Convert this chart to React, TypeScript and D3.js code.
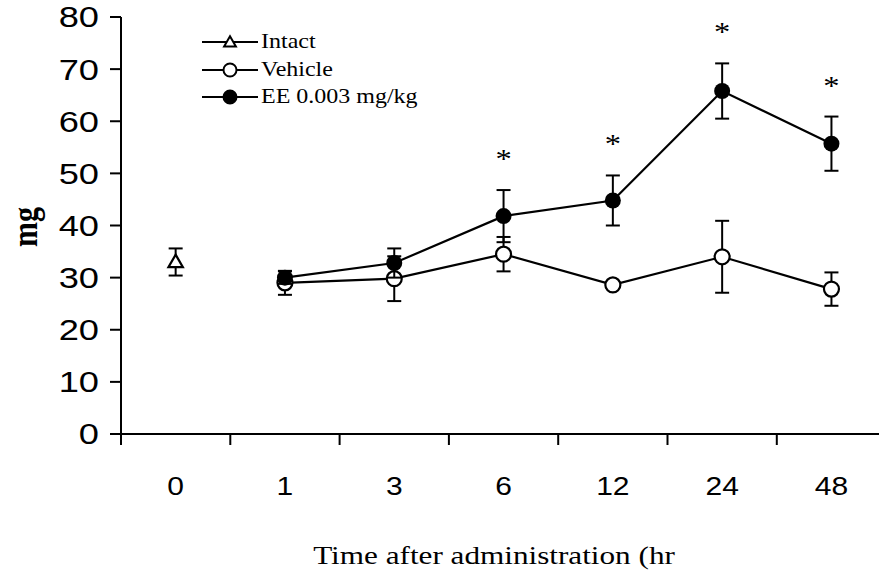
import { useRef, useEffect } from 'react';
import * as d3 from 'd3';

const categories = ['0', '1', '3', '6', '12', '24', '48'];
const yTicks = [0, 10, 20, 30, 40, 50, 60, 70, 80];

const intactTimes = ['0'];
const intactMean = [33];
const intactErr = [2.6];

const treatTimes = ['1', '3', '6', '12', '24', '48'];
const vehicleMean = [29, 29.8, 34.5, 28.6, 34, 27.8];
const vehicleErr = [2.3, 4.3, 3.3, 0.6, 6.9, 3.2];
const eeMean = [30, 32.8, 41.8, 44.8, 65.8, 55.7];
const eeErr = [1.2, 2.8, 5, 4.8, 5.3, 5.2];
const eeSig = [false, false, true, true, true, true];

const legendLabels = ['Intact', 'Vehicle', 'EE 0.003 mg/kg'];

const SX = 1.2; // the scan is a bit wider than tall

const App = () => {
  const svgRef = useRef<SVGSVGElement>(null);

  useEffect(() => {
    const svg = d3.select(svgRef.current);
    svg.selectAll('*').remove();

    const left = 121;
    const bottom = 434;
    const top = 17;
    const band = 109.3;

    const x = d3.scaleBand<string>()
      .domain(categories)
      .range([left, left + band * categories.length])
      .paddingInner(0)
      .paddingOuter(0);
    const cx = (c: string) => (x(c) as number) + x.bandwidth() / 2;

    const y = d3.scaleLinear().domain([0, 80]).range([bottom, top]);

    const serif = 'Liberation Serif, Times New Roman, serif';
    const sans = 'Liberation Sans, Arial, sans-serif';

    // axes
    const ax = svg.append('g').attr('stroke', '#000').attr('stroke-width', 2);
    ax.append('line').attr('x1', left).attr('x2', left).attr('y1', top).attr('y2', bottom + 11);
    ax.append('line').attr('x1', left - 11).attr('x2', 879).attr('y1', bottom).attr('y2', bottom);

    ax.selectAll('.yt')
      .data(yTicks)
      .join('line')
      .attr('x1', left - 11)
      .attr('x2', left)
      .attr('y1', d => y(d))
      .attr('y2', d => y(d));

    ax.selectAll('.xt')
      .data(categories.slice(1))
      .join('line')
      .attr('x1', d => x(d) as number)
      .attr('x2', d => x(d) as number)
      .attr('y1', bottom)
      .attr('y2', bottom + 11);

    svg.append('g')
      .selectAll('text')
      .data(yTicks)
      .join('text')
      .attr('transform', d => `translate(99,${y(d)}) scale(1.25,1)`)
      .attr('dy', '0.36em')
      .attr('text-anchor', 'end')
      .attr('font-family', sans)
      .attr('font-size', 29)
      .text(d => d);

    svg.append('g')
      .selectAll('text')
      .data(categories)
      .join('text')
      .attr('transform', d => `translate(${cx(d)},495) scale(${SX},1)`)
      .attr('text-anchor', 'middle')
      .attr('font-family', sans)
      .attr('font-size', 25)
      .text(d => d);

    svg.append('text')
      .attr('transform', `translate(${(left + 879) / 2 - 6},564) scale(${SX},1)`)
      .attr('text-anchor', 'middle')
      .attr('font-family', serif)
      .attr('font-size', 26)
      .text('Time after administration (hr');

    svg.append('text')
      .attr('transform', `translate(37,227) scale(${SX},1) rotate(-90)`)
      .attr('text-anchor', 'middle')
      .attr('font-family', serif)
      .attr('font-weight', 'bold')
      .attr('font-size', 30)
      .text('mg');

    const line = d3.line<[number, number]>().x(d => d[0]).y(d => d[1]);

    const drawErr = (times: string[], mean: number[], err: number[]) => {
      const g = svg.append('g').attr('stroke', '#000').attr('stroke-width', 2);
      times.forEach((t, i) => {
        const px = cx(t);
        const y0 = y(mean[i] - err[i]);
        const y1 = y(mean[i] + err[i]);
        g.append('line').attr('x1', px).attr('x2', px).attr('y1', y0).attr('y2', y1);
        g.append('line').attr('x1', px - 7).attr('x2', px + 7).attr('y1', y0).attr('y2', y0);
        g.append('line').attr('x1', px - 7).attr('x2', px + 7).attr('y1', y1).attr('y2', y1);
      });
    };

    const pts = (times: string[], mean: number[]) =>
      times.map((t, i) => [cx(t), y(mean[i])] as [number, number]);

    // intact
    drawErr(intactTimes, intactMean, intactErr);
    const tri = d3.symbol().type(d3.symbolTriangle).size(90);
    svg.append('g')
      .selectAll('path')
      .data(pts(intactTimes, intactMean))
      .join('path')
      .attr('transform', d => `translate(${d[0]},${d[1] + 1})`)
      .attr('d', tri())
      .attr('fill', '#fff')
      .attr('stroke', '#000')
      .attr('stroke-width', 2.2);

    // vehicle
    svg.append('path')
      .attr('d', line(pts(treatTimes, vehicleMean)))
      .attr('fill', 'none')
      .attr('stroke', '#000')
      .attr('stroke-width', 2.2);
    drawErr(treatTimes, vehicleMean, vehicleErr);
    svg.append('g')
      .selectAll('circle')
      .data(pts(treatTimes, vehicleMean))
      .join('circle')
      .attr('cx', d => d[0])
      .attr('cy', d => d[1])
      .attr('r', 7.5)
      .attr('fill', '#fff')
      .attr('stroke', '#000')
      .attr('stroke-width', 2.2);

    // EE
    svg.append('path')
      .attr('d', line(pts(treatTimes, eeMean)))
      .attr('fill', 'none')
      .attr('stroke', '#000')
      .attr('stroke-width', 2.2);
    drawErr(treatTimes, eeMean, eeErr);
    svg.append('g')
      .selectAll('circle')
      .data(pts(treatTimes, eeMean))
      .join('circle')
      .attr('cx', d => d[0])
      .attr('cy', d => d[1])
      .attr('r', 8)
      .attr('fill', '#000');

    svg.append('g')
      .selectAll('text')
      .data(treatTimes.filter((_, i) => eeSig[i]))
      .join('text')
      .attr('transform', d => {
        const i = treatTimes.indexOf(d);
        return `translate(${cx(d)},${y(eeMean[i] + eeErr[i]) - 34 + 12}) scale(${SX},1)`;
      })
      .attr('text-anchor', 'middle')
      .attr('font-family', serif)
      .attr('font-size', 27)
      .text('*');

    // legend
    const lg = svg.append('g');
    const rows = [42, 70, 97];
    legendLabels.forEach((lab, i) => {
      const ry = rows[i];
      lg.append('line')
        .attr('x1', 202).attr('x2', 258).attr('y1', ry).attr('y2', ry)
        .attr('stroke', '#000').attr('stroke-width', 2);
      if (i === 0) {
        lg.append('path')
          .attr('transform', `translate(230,${ry + 1})`)
          .attr('d', d3.symbol().type(d3.symbolTriangle).size(60)())
          .attr('fill', '#fff').attr('stroke', '#000').attr('stroke-width', 2);
      } else {
        lg.append('circle')
          .attr('cx', 230).attr('cy', ry).attr('r', 6.5)
          .attr('fill', i === 1 ? '#fff' : '#000')
          .attr('stroke', '#000').attr('stroke-width', 2);
      }
      lg.append('text')
        .attr('transform', `translate(261,${ry + 6}) scale(${SX},1)`)
        .attr('font-family', serif)
        .attr('font-size', 20)
        .text(lab);
    });
  }, []);

  return (
    <svg
      ref={svgRef}
      width="879"
      height="574"
      style={{ position: 'absolute', left: 0, top: 0, background: '#fff' }}
    ></svg>
  );
};

export default App;
